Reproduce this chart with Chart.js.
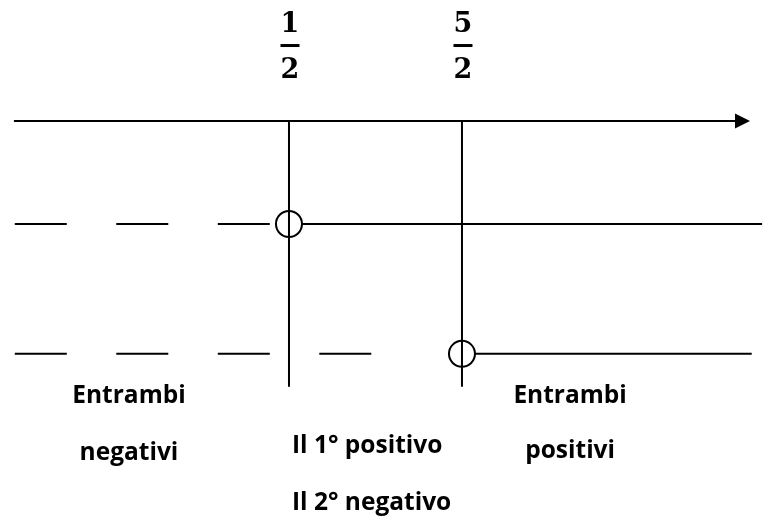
<!DOCTYPE html>
<html>
<head>
<meta charset="utf-8">
<script src="https://cdn.jsdelivr.net/npm/chart.js@4.4.1/dist/chart.umd.min.js"></script>
<style>
  html, body { margin: 0; padding: 0; background: #fff; }
  #wrap { width: 768px; height: 522px; }
</style>
</head>
<body>
<div id="wrap"><canvas id="c" width="768" height="522"></canvas></div>
<script>
// ---- data ----
const criticalPoints = [0.5, 2.5];
const criticalNumerators = ["1", "5"];
const criticalDenominators = ["2", "2"];
const axisStart = -2.68;
const axisEnd = 5.83;
const factorLevels = [1, 2.26];          // row of each factor below the axis
const factorRoots = [0.5, 2.5];          // where each factor changes sign
const dashEnds = [0.5, 1.5];             // end of the dashed (negative) part
const solidEnds = [5.97, 5.85];          // end of the solid (positive) part
const verticalBottom = 2.58;
const regionX = [-1.35, 0.535, 3.75];
const regionAlign = ['center', 'left', 'center'];
const regionTexts = [
  ["Entrambi", "negativi"],
  ["Il 1° positivo", "Il 2° negativo"],
  ["Entrambi", "positivi"]
];
const regionTextLevels = [
  [2.74, 3.29],
  [3.22, 3.78],
  [2.74, 3.27]
];

// ---- datasets ----
const datasets = [];
criticalPoints.forEach((c) => {
  datasets.push({
    data: [{x: c, y: 0}, {x: c, y: verticalBottom}],
    showLine: true, borderColor: '#000', borderWidth: 2,
    pointRadius: 0, order: 0
  });
});
datasets.push({
  data: [{x: axisStart, y: 0}, {x: axisEnd - 0.15, y: 0}],
  showLine: true, borderColor: '#000', borderWidth: 2.2,
  pointRadius: 0, order: 2
});
factorLevels.forEach((lvl, i) => {
  datasets.push({
    data: [{x: axisStart + 0.01, y: lvl}, {x: dashEnds[i], y: lvl}],
    showLine: true, borderColor: '#000', borderWidth: 2,
    borderDash: [52, 49.5], pointRadius: 0, order: 2
  });
  datasets.push({
    data: [{x: factorRoots[i], y: lvl}, {x: solidEnds[i], y: lvl}],
    showLine: true, borderColor: '#000', borderWidth: 2,
    pointRadius: [13, 0], pointBorderWidth: 2,
    pointBackgroundColor: '#fff', pointBorderColor: '#000', order: 1
  });
});

const textPlugin = {
  id: 'texts',
  afterDatasetsDraw(chart) {
    const ctx = chart.ctx;
    const xs = chart.scales.x, ys = chart.scales.y;
    const y0 = ys.getPixelForValue(0);
    ctx.save();
    // arrow head
    const tip = xs.getPixelForValue(axisEnd);
    ctx.fillStyle = '#000';
    ctx.beginPath();
    ctx.moveTo(tip, y0);
    ctx.lineTo(tip - 15, y0 - 7.5);
    ctx.lineTo(tip - 15, y0 + 7.5);
    ctx.closePath();
    ctx.fill();
    // fractions
    ctx.textAlign = 'center';
    ctx.textBaseline = 'alphabetic';
    ctx.font = 'bold 27px "DejaVu Serif"';
    criticalPoints.forEach((c, i) => {
      const px = xs.getPixelForValue(c) + 1;
      ctx.fillText(criticalNumerators[i], px, y0 - 89);
      ctx.fillRect(px - 9.5, y0 - 77, 19, 3);
      ctx.fillText(criticalDenominators[i], px, y0 - 43);
    });
    // region texts
    ctx.font = 'bold 24.5px "Open Sans"';
    regionX.forEach((rx, i) => {
      const px = xs.getPixelForValue(rx);
      ctx.textAlign = regionAlign[i];
      regionTexts[i].forEach((t, j) => {
        ctx.fillText(t, px, ys.getPixelForValue(regionTextLevels[i][j]));
      });
    });
    ctx.restore();
  }
};

new Chart(document.getElementById('c'), {
  type: 'scatter',
  data: { datasets },
  options: {
    responsive: false,
    animation: false,
    layout: { padding: 0, autoPadding: false },
    plugins: { legend: { display: false }, tooltip: { enabled: false } },
    scales: {
      x: { type: 'linear', display: false, min: -2.841, max: 6.038 },
      y: { type: 'linear', display: false, reverse: true, min: -1.175, max: 3.893 }
    }
  },
  plugins: [textPlugin]
});
</script>
</body>
</html>
